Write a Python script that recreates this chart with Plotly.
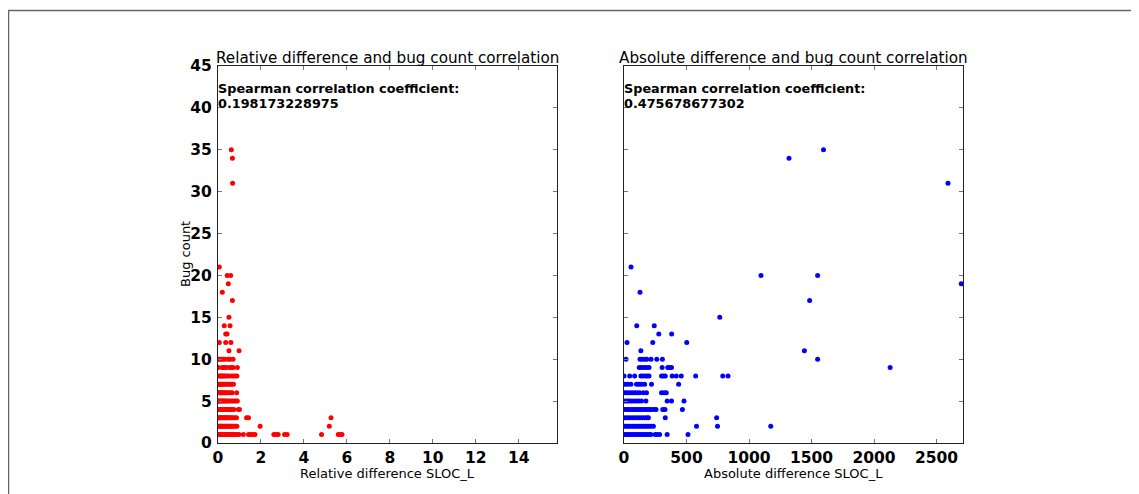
import plotly.graph_objects as go

# ---------------- data ----------------
# Left panel: relative difference SLOC_L vs bug count
rel_x = [
    # bug count 1
    0.02, 0.05, 0.08, 0.1, 0.13, 0.16, 0.2, 0.24, 0.28, 0.32, 0.36, 0.4, 0.45, 0.5, 0.55, 0.6, 0.66, 0.72, 0.8, 0.88, 0.98,
    1.18, 1.42, 1.52, 1.62, 1.72, 2.6, 2.7, 2.8, 3.1, 3.22, 4.82, 5.6, 5.7, 5.77,
    # 2
    0.02, 0.06, 0.1, 0.14, 0.18, 0.22, 0.26, 0.3, 0.35, 0.4, 0.45, 0.5, 0.55, 0.6, 0.66, 0.72, 0.8, 0.88, 1.96, 5.18,
    # 3
    0.02, 0.06, 0.1, 0.15, 0.2, 0.25, 0.3, 0.35, 0.4, 0.45, 0.5, 0.56, 0.62, 0.7, 0.78, 0.86, 1.33, 1.42, 5.26,
    # 4
    0.02, 0.06, 0.1, 0.15, 0.2, 0.25, 0.3, 0.35, 0.4, 0.46, 0.52, 0.58, 0.66, 0.74, 0.95, 1.0,
    # 5
    0.02, 0.06, 0.1, 0.15, 0.2, 0.25, 0.3, 0.36, 0.42, 0.5, 0.58, 0.66, 0.74, 0.82, 0.9,
    # 6
    0.02, 0.06, 0.1, 0.15, 0.2, 0.25, 0.3, 0.36, 0.42, 0.5, 0.58, 0.66, 0.87,
    # 7
    0.02, 0.06, 0.1, 0.15, 0.2, 0.26, 0.32, 0.4, 0.48, 0.56, 0.64, 0.72,
    # 8
    0.02, 0.1, 0.15, 0.2, 0.26, 0.32, 0.4, 0.48, 0.6, 0.7, 0.8, 0.88,
    # 9
    0.02, 0.2, 0.25, 0.3, 0.4, 0.55, 0.62, 0.7, 0.9,
    # 10
    0.03, 0.1, 0.18, 0.25, 0.33, 0.48, 0.56, 0.7,
    # 11 .. 35
    0.51, 0.98,
    0.06, 0.36, 0.6,
    0.36, 0.42,
    0.29, 0.56,
    0.51,
    0.67,
    0.2,
    0.48,
    0.43, 0.59,
    0.06,
    0.68,
    0.67,
    0.62,
]
rel_y = (
    [1] * 35 + [2] * 20 + [3] * 19 + [4] * 16 + [5] * 15 + [6] * 13 + [7] * 12 + [8] * 12
    + [9] * 9 + [10] * 8 + [11] * 2 + [12] * 3 + [13] * 2 + [14] * 2 + [15] + [17] + [18]
    + [19] + [20] * 2 + [21] + [31] + [34] + [35]
)

# Right panel: absolute difference SLOC_L vs bug count
abs_x = [
    # 1
    8, 20, 35, 50, 65, 80, 95, 110, 125, 140, 155, 170, 185, 200, 215, 250, 265, 285, 345, 512,
    # 2
    8, 20, 35, 50, 65, 80, 95, 110, 125, 140, 155, 170, 185, 200, 215, 235, 580, 748, 1174,
    # 3
    8, 25, 45, 65, 85, 105, 125, 145, 165, 185, 195, 330, 741,
    # 4
    8, 25, 40, 55, 70, 85, 100, 115, 130, 145, 160, 175, 190, 205, 220, 240, 256, 310, 328, 467,
    # 5
    8, 25, 40, 60, 80, 100, 120, 140, 175, 345, 380, 480,
    # 6
    8, 25, 45, 65, 85, 105, 125, 155, 180, 300, 320, 338,
    # 7
    8, 30, 55, 100, 120, 140, 165, 220, 437,
    # 8
    0, 45, 85, 135, 150, 170, 185, 200, 300, 315, 330, 385, 418, 458, 573, 790, 832,
    # 9
    122, 140, 160, 180, 200, 305, 350, 365, 380, 2129,
    # 10
    16, 128, 145, 165, 182, 216, 262, 307, 1549,
    # 11 .. 35
    135, 1443,
    24, 230, 502,
    278, 381,
    102, 242,
    766,
    1485,
    128,
    2698,
    1096, 1549,
    56,
    2592,
    1320,
    1596,
]
abs_y = (
    [1] * 20 + [2] * 19 + [3] * 13 + [4] * 20 + [5] * 12 + [6] * 12 + [7] * 9 + [8] * 17
    + [9] * 10 + [10] * 9 + [11] * 2 + [12] * 3 + [13] * 2 + [14] * 2 + [15] + [17] + [18]
    + [19] + [20] * 2 + [21] + [31] + [34] + [35]
)

rel_coef = "0.198173228975"
abs_coef = "0.475678677302"
left_title = "Relative difference and bug count correlation"
right_title = "Absolute difference and bug count correlation"
left_xlabel = "Relative difference SLOC_L"
right_xlabel = "Absolute difference SLOC_L"
ylabel = "Bug count"

# ---------------- figure ----------------
# the page body adds an 8 px offset, so the figure is 8 px smaller than the window
OFF = 8
W, H = 1139 - OFF, 494 - OFF
FONT = "DejaVu Sans"

def px(xp):  # window pixel -> paper fraction
    return (xp - OFF) / W

def py(yp):
    return 1 - (yp - OFF) / H

fig = go.Figure()
fig.add_trace(go.Scatter(x=rel_x, y=rel_y, mode="markers", xaxis="x", yaxis="y",
                         marker=dict(color="#ff0000", size=5, line=dict(width=0)),
                         showlegend=False, hoverinfo="x+y"))
fig.add_trace(go.Scatter(x=abs_x, y=abs_y, mode="markers", xaxis="x2", yaxis="y2",
                         marker=dict(color="#0000ff", size=5, line=dict(width=0)),
                         showlegend=False, hoverinfo="x+y"))

L1, R1 = 218, 557
L2, R2 = 624, 963
TOP, BOT = 66, 443

axis_common = dict(
    showgrid=False, zeroline=False, showline=True, linecolor="#222", linewidth=1,
    mirror="allticks", ticks="inside", ticklen=4, tickwidth=1, tickcolor="#777",
    automargin=False,
    tickfont=dict(family=FONT, size=15.5, color="black", weight="bold"),
)

fig.update_layout(
    template="none",
    width=W, height=H,
    margin=dict(l=0, r=0, t=0, b=0, pad=0),
    paper_bgcolor="white", plot_bgcolor="white",
    font=dict(family=FONT, color="black"),
    xaxis=dict(domain=[px(L1), px(R1)], range=[0, 15.78], dtick=2, tick0=0, anchor="y",
               ticklabelstandoff=0, **axis_common),
    yaxis=dict(domain=[py(BOT), py(TOP)], range=[0, 45], dtick=5, tick0=0, anchor="x",
               ticklabelstandoff=2, **axis_common),
    xaxis2=dict(domain=[px(L2), px(R2)], range=[0, 2712], dtick=500, tick0=0, anchor="y2",
                ticklabelstandoff=0, **axis_common),
    yaxis2=dict(domain=[py(BOT), py(TOP)], range=[0, 45], dtick=5, tick0=0, anchor="x2",
                showticklabels=False, **axis_common),
)

ann = []
# panel titles
for L, R, t in ((L1, R1, left_title), (L2, R2, right_title)):
    ann.append(dict(text=t, x=px((L + R) / 2), y=py(58), xref="paper", yref="paper",
                    xanchor="center", yanchor="middle", showarrow=False,
                    font=dict(family=FONT, size=15.2, color="black")))
# spearman text
for L, coef in ((L1, rel_coef), (L2, abs_coef)):
    ann.append(dict(text="Spearman correlation coefficient:", x=px(L), y=py(89), xref="paper", yref="paper",
                    xanchor="left", yanchor="middle", showarrow=False, xshift=-2,
                    font=dict(family=FONT, size=12.8, color="black", weight="bold")))
    ann.append(dict(text=coef, x=px(L), y=py(103.5), xref="paper", yref="paper",
                    xanchor="left", yanchor="middle", showarrow=False, xshift=-2,
                    font=dict(family=FONT, size=12.8, color="black", weight="bold")))
# axis labels
for L, R, t in ((L1, R1, left_xlabel), (L2, R2, right_xlabel)):
    ann.append(dict(text=t, x=px((L + R) / 2), y=py(473), xref="paper", yref="paper",
                    xanchor="center", yanchor="middle", showarrow=False,
                    font=dict(family=FONT, size=13, color="black")))
ann.append(dict(text=ylabel, x=px(185), y=py(254), xref="paper", yref="paper",
                xanchor="center", yanchor="middle", showarrow=False, textangle=-90,
                font=dict(family=FONT, size=13, color="black")))
fig.update_layout(annotations=ann)

# outer figure frame (partially visible in the reference)
fig.add_shape(type="path", xref="paper", yref="paper",
              path=f"M {px(8.5)},0 L {px(8.5)},{py(10.5)} L 1,{py(10.5)}",
              line=dict(color="#666", width=1.5))

fig.write_html("out.html")
